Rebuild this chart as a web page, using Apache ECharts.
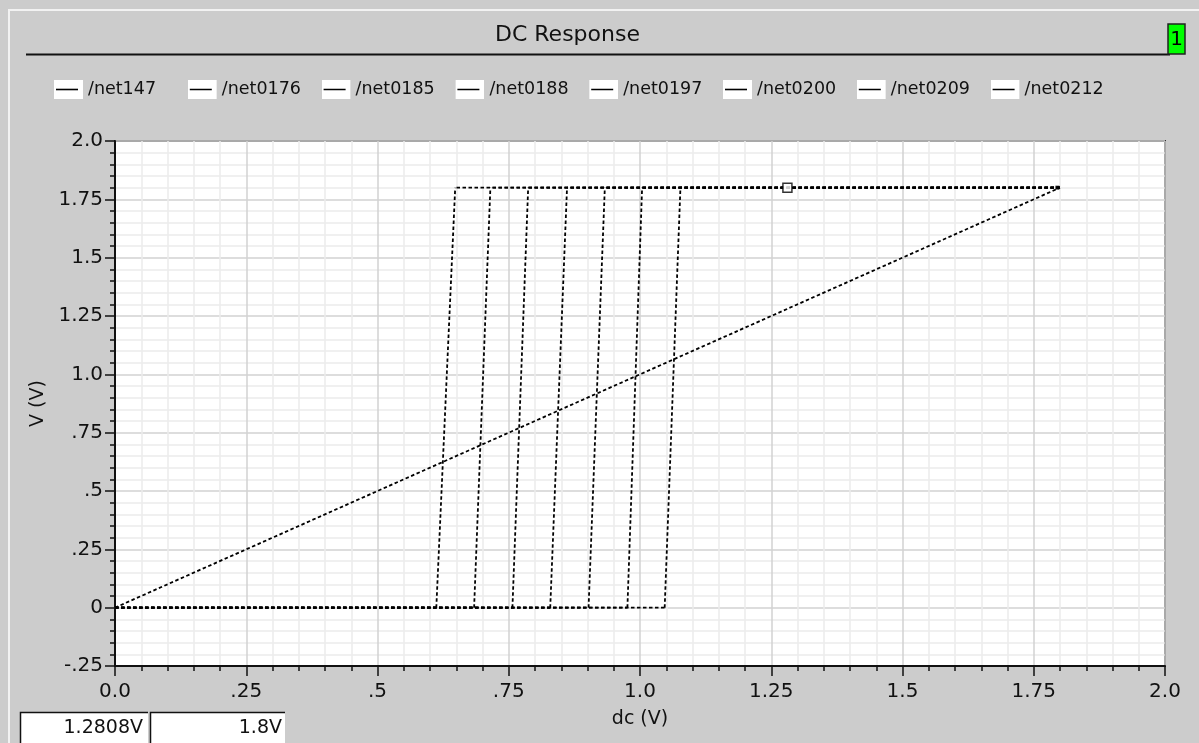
<!DOCTYPE html>
<html>
<head>
<meta charset="utf-8">
<title>DC Response</title>
<script src="https://cdn.jsdelivr.net/npm/echarts@6/dist/echarts.min.js"></script>
<style>
  html, body { margin: 0; padding: 0; background: #cccccc; }
  #main { width: 1199px; height: 743px; }
</style>
</head>
<body>
<div id="main"></div>
<script>
// 各条曲线名称
var netNames = ['/net147', '/net0176', '/net0185', '/net0188', '/net0197', '/net0200', '/net0209', '/net0212'];

// 输入斜坡 (dc 扫描)
var rampX = [0, 1.8];
var rampY = [0, 1.8];

// 各输出的翻转起点与终点 (dc 值)
var stepStartX = [0.612, 0.684, 0.757, 0.829, 0.902, 0.976, 1.047];
var stepEndX = [0.648, 0.715, 0.787, 0.861, 0.933, 1.004, 1.077];
var vLow = 0;
var vHigh = 1.8;
var sweepMin = 0;
var sweepMax = 1.8;

// 光标 / 端点
var cursorPoint = [1.2808, 1.8];
var endPoint = [1.795, 1.8];
var cursorX = '1.2808V';
var cursorY = '1.8V';

// 刻度文字
var xTicks = [0, 0.25, 0.5, 0.75, 1.0, 1.25, 1.5, 1.75, 2.0];
var xTickLabels = ['0.0', '.25', '.5', '.75', '1.0', '1.25', '1.5', '1.75', '2.0'];
var yTicks = [-0.25, 0, 0.25, 0.5, 0.75, 1.0, 1.25, 1.5, 1.75, 2.0];
var yTickLabels = ['-.25', '0', '.25', '.5', '.75', '1.0', '1.25', '1.5', '1.75', '2.0'];

function tickLabel(ticks, labels) {
    return function (v) {
        for (var i = 0; i < ticks.length; i++) {
            if (Math.abs(ticks[i] - v) < 1e-6) return labels[i];
        }
        return '';
    };
}

var FONT = 'DejaVu Sans';
var lineStyle = { color: '#000', width: 1.8, type: [3.5, 2.5] };

// 图例小图标：白底 + 黑短线
var iconSvg = "<svg xmlns='http://www.w3.org/2000/svg' width='29' height='19'>" +
    "<rect width='29' height='19' fill='white'/>" +
    "<line x1='2' y1='9.5' x2='24' y2='9.5' stroke='black' stroke-width='1.6'/></svg>";
var legendIcon = 'image://data:image/svg+xml;charset=utf-8,' + encodeURIComponent(iconSvg);

// 图例按固定列宽排布
var legends = netNames.map(function (name, i) {
    return {
        data: [name],
        left: 54 + i * 133.8,
        top: 80,
        padding: 0,
        icon: legendIcon,
        itemWidth: 29,
        itemHeight: 19,
        selectedMode: false,
        textStyle: { fontFamily: FONT, fontSize: 17.5, color: '#111' }
    };
});

var series = [];
series.push({
    name: netNames[0],
    type: 'line',
    showSymbol: false,
    lineStyle: lineStyle,
    data: rampX.map(function (x, i) { return [x, rampY[i]]; })
});
// 分段画，让虚线相位在重叠处对齐（低电平从左起，高电平从右起）
for (var k = 0; k < stepStartX.length; k++) {
    series.push({
        name: netNames[k + 1],
        type: 'line',
        showSymbol: false,
        connectNulls: false,
        lineStyle: lineStyle,
        data: [
            [sweepMin, vLow], [stepStartX[k], vLow], '-',
            [stepStartX[k], vLow], [stepEndX[k], vHigh], '-',
            [sweepMax, vHigh], [stepEndX[k], vHigh]
        ]
    });
}
series.push({
    name: 'cursor',
    type: 'scatter',
    symbol: 'rect',
    symbolSize: 9,
    itemStyle: { color: '#fff', borderColor: '#000', borderWidth: 1.5 },
    data: [cursorPoint],
    z: 5
});
series.push({
    name: 'end',
    type: 'scatter',
    symbol: 'rect',
    symbolSize: 4,
    itemStyle: { color: '#000' },
    data: [endPoint],
    z: 5
});

var chart = echarts.init(document.getElementById('main'), null, { renderer: 'canvas' });

var option = {
    backgroundColor: '#cccccc',
    animation: false,
    title: {
        text: 'DC Response',
        left: 490,
        top: 19,
        textStyle: { fontFamily: FONT, fontSize: 22, fontWeight: 'normal', color: '#111' }
    },
    legend: legends,
    grid: {
        left: 115,
        right: 34,
        top: 141,
        bottom: 77,
        show: true,
        backgroundColor: '#fff',
        borderColor: '#333',
        borderWidth: 2
    },
    xAxis: {
        type: 'value',
        min: 0,
        max: 2,
        interval: 0.25,
        name: 'dc (V)',
        nameLocation: 'middle',
        nameGap: 44,
        nameTextStyle: { fontFamily: FONT, fontSize: 19, color: '#111' },
        axisLine: { show: true, onZero: false, lineStyle: { color: '#111', width: 2 } },
        axisTick: { show: true, length: 10, lineStyle: { color: '#111', width: 1.5 } },
        minorTick: { show: true, splitNumber: 5, length: 5, lineStyle: { color: '#111', width: 1.5 } },
        splitLine: { show: true, lineStyle: { color: '#d2d2d2', width: 1.5 } },
        minorSplitLine: { show: true, lineStyle: { color: '#ececec', width: 1.5 } },
        axisLabel: {
            show: true, margin: 16, showMinLabel: true, showMaxLabel: true,
            fontFamily: FONT, fontSize: 20, color: '#111',
            formatter: tickLabel(xTicks, xTickLabels)
        }
    },
    yAxis: {
        type: 'value',
        min: -0.25,
        max: 2,
        interval: 0.25,
        name: 'V (V)',
        nameLocation: 'middle',
        nameGap: 66,
        nameRotate: 90,
        nameTextStyle: { fontFamily: FONT, fontSize: 19, color: '#111' },
        axisLine: { show: true, onZero: false, lineStyle: { color: '#111', width: 2 } },
        axisTick: { show: true, length: 10, lineStyle: { color: '#111', width: 1.5 } },
        minorTick: { show: true, splitNumber: 5, length: 5, lineStyle: { color: '#111', width: 1.5 } },
        splitLine: { show: true, lineStyle: { color: '#d2d2d2', width: 1.5 } },
        minorSplitLine: { show: true, lineStyle: { color: '#ececec', width: 1.5 } },
        axisLabel: {
            show: true, margin: 12, showMinLabel: true, showMaxLabel: true,
            fontFamily: FONT, fontSize: 20, color: '#111',
            formatter: tickLabel(yTicks, yTickLabels)
        }
    },
    graphic: [
        // 外框
        { type: 'rect', shape: { x: 9, y: 10, width: 1200, height: 760 }, style: { fill: null, stroke: '#f2f2f2', lineWidth: 2 }, silent: true },
        // 标题下横线
        { type: 'line', shape: { x1: 26, y1: 54.5, x2: 1170, y2: 54.5 }, style: { stroke: '#111', lineWidth: 2 }, silent: true },
        // 绿色编号框
        { type: 'rect', shape: { x: 1168, y: 24, width: 17, height: 30 }, style: { fill: '#00ff00', stroke: '#222', lineWidth: 1.5 }, silent: true },
        { type: 'text', x: 1176.5, y: 40, style: { text: '1', fontFamily: FONT, fontSize: 20, fill: '#000', align: 'center', verticalAlign: 'middle' }, silent: true },
        // 光标读数框
        { type: 'rect', shape: { x: 20, y: 712, width: 128, height: 34 }, style: { fill: '#fff', stroke: null }, silent: true },
        { type: 'polyline', shape: { points: [[20.5, 745], [20.5, 712.5], [148, 712.5]] }, style: { stroke: '#111', lineWidth: 1.5, fill: null }, silent: true },
        { type: 'text', x: 143, y: 728, style: { text: cursorX, fontFamily: FONT, fontSize: 19, fill: '#111', align: 'right', verticalAlign: 'middle' }, silent: true },
        { type: 'rect', shape: { x: 150, y: 712, width: 135, height: 34 }, style: { fill: '#fff', stroke: null }, silent: true },
        { type: 'polyline', shape: { points: [[150.5, 745], [150.5, 712.5], [285, 712.5]] }, style: { stroke: '#111', lineWidth: 1.5, fill: null }, silent: true },
        { type: 'text', x: 282, y: 728, style: { text: cursorY, fontFamily: FONT, fontSize: 19, fill: '#111', align: 'right', verticalAlign: 'middle' }, silent: true }
    ],
    series: series
};

chart.setOption(option);

window.onresize = function () {
    chart.resize();
};
</script>
</body>
</html>
